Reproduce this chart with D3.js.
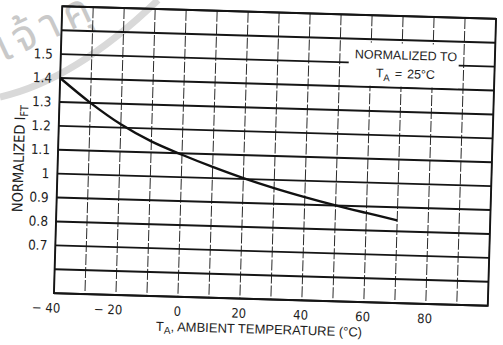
<!DOCTYPE html>
<html><head><meta charset="utf-8">
<script src="https://cdn.jsdelivr.net/npm/d3@7"></script>
<style>
body{margin:0;background:#fff}
svg{display:block}
text{font-family:"Liberation Sans",Arial,Helvetica,sans-serif;fill:#1e1e1e}
.narrow{font-family:"Liberation Sans Narrow","Arial Narrow","DejaVu Sans Condensed",sans-serif}
</style>
</head><body>
<svg id="chart" width="503" height="345"></svg>
<script>
// Normalized trigger current vs ambient temperature
const temperatures = [-40, -30, -20, -10, 0, 10, 20, 30, 40, 50, 60, 70];
const normalizedIft = [1.400, 1.300, 1.214, 1.146, 1.094, 1.047, 1.004, 0.966, 0.932, 0.901, 0.873, 0.846];
const xTickValues = [-40, -20, 0, 20, 40, 60, 80];
const yTickValues = [0.7, 0.8, 0.9, 1.0, 1.1, 1.2, 1.3, 1.4, 1.5];
const xGridValues = d3.range(-40, 101, 10);
const yGridValues = d3.range(5, 18).map(d => d / 10);

const svg = d3.select("#chart");

// faint stamp in the corner
const stamp = svg.append("g");
stamp.append("path")
  .attr("d", "M0,97 Q75,80 158,0")
  .attr("fill", "none").attr("stroke", "#d9d9d9").attr("stroke-width", 7);
stamp.append("text")
  .attr("transform", "translate(3,62) rotate(-25)")
  .attr("font-size", 44)
  .attr("letter-spacing", 7)
  .style("fill", "#c9c9c9")
  .style("font-family", "'Noto Sans Thai','Noto Sans',sans-serif")
  .text("เจ้าคุ");

const plotLeft = 58, plotRight = 492, plotTop = 12.5, plotBottom = 299.5;
const x = d3.scaleLinear().domain([-40, 100]).range([plotLeft, plotRight]);
const y = d3.scaleLinear().domain([0.5, 1.7]).range([plotBottom, plotTop]);

// the printed sheet sits slightly askew
const g = svg.append("g").attr("transform", "rotate(1.65,275,156)");

// vertical grid (thin, broken)
g.append("g").selectAll("line").data(xGridValues).join("line")
  .attr("x1", d => x(d)).attr("x2", d => x(d))
  .attr("y1", plotTop).attr("y2", plotBottom)
  .attr("stroke", "#2a2a2a").attr("stroke-width", 1)
  .attr("stroke-dasharray", d => (d === -40 || d === 100) ? null : "11 2");

// horizontal grid (heavy)
g.append("g").selectAll("line").data(yGridValues).join("line")
  .attr("x1", plotLeft).attr("x2", plotRight)
  .attr("y1", d => y(d)).attr("y2", d => y(d))
  .attr("stroke", "#151515").attr("stroke-width", 1.9);

// frame
g.append("rect")
  .attr("x", plotLeft).attr("y", plotTop).attr("width", plotRight - plotLeft).attr("height", plotBottom - plotTop)
  .attr("fill", "none").attr("stroke", "#151515").attr("stroke-width", 1.9);

// curve
const line = d3.line().x((d, i) => x(temperatures[i])).y(d => y(d)).curve(d3.curveCatmullRom);
g.append("path").datum(normalizedIft)
  .attr("d", line)
  .attr("fill", "none").attr("stroke", "#111").attr("stroke-width", 2.4);

// note box
const note = g.append("g");
note.append("rect").attr("x", 346).attr("y", 40).attr("width", 110).attr("height", 43).attr("fill", "#fff");
note.append("text").attr("x", 403).attr("y", 56).attr("text-anchor", "middle")
  .attr("font-size", 12.5).text("NORMALIZED TO");
const nt = note.append("text").attr("x", 403).attr("y", 74.5).attr("text-anchor", "middle").attr("font-size", 12.5);
nt.append("tspan").text("T");
nt.append("tspan").attr("font-size", 9.5).attr("dy", 3.5).text("A");
nt.append("tspan").attr("dy", -3.5).attr("dx", 5).text("=");
nt.append("tspan").attr("dx", 5).text("25°C");

// axes
const xAxis = d3.axisBottom(x).tickValues(xTickValues).tickSize(0).tickPadding(10)
  .tickFormat(d => d < 0 ? "\u2212 " + Math.abs(d) : String(d));
const xa = g.append("g").attr("transform", `translate(0,${plotBottom})`).call(xAxis);
xa.select(".domain").remove();
xa.selectAll("text").attr("font-size", 13).attr("class", "narrow").attr("text-anchor", "end")
  .attr("dx", d => String(Math.abs(d)).length * 3.1);

const yAxis = d3.axisLeft(y).tickValues(yTickValues).tickSize(0).tickPadding(8)
  .tickFormat(d => d === 1 ? "1" : d3.format(".1f")(d));
const ya = g.append("g").attr("transform", `translate(${plotLeft},0)`).call(yAxis);
ya.select(".domain").remove();
ya.selectAll("text").attr("font-size", 13.5).attr("class", "narrow");

// axis titles
const xt = g.append("text").attr("x", 264).attr("y", 334).attr("text-anchor", "middle").attr("font-size", 13);
xt.append("tspan").text("T");
xt.append("tspan").attr("font-size", 10).attr("dy", 3).text("A");
xt.append("tspan").attr("dy", -3).text(", AMBIENT TEMPERATURE (°C)");

const yt = g.append("text").attr("class", "narrow").attr("transform", "translate(24,166) rotate(-90)")
  .attr("text-anchor", "middle").attr("font-size", 14.5);
yt.append("tspan").text("NORMALIZED I");
yt.append("tspan").attr("font-size", 11).attr("dy", 3).text("FT");
</script>
</body></html>
